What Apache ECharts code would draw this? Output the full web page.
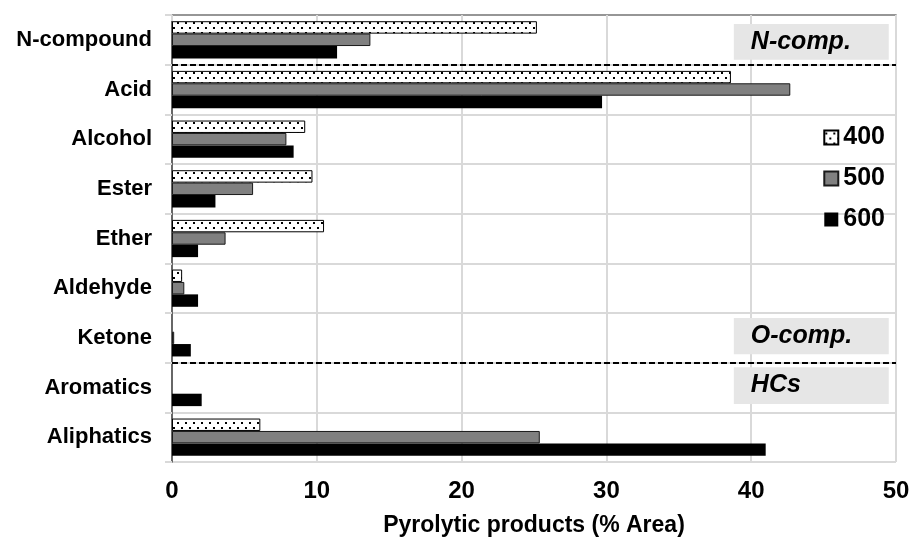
<!DOCTYPE html>
<html>
<head>
<meta charset="utf-8">
<script src="https://cdn.jsdelivr.net/npm/echarts@6/dist/echarts.min.js"></script>
<style>html,body{margin:0;padding:0;background:#fff}#c{width:916px;height:542px}</style>
</head>
<body>
<div id="c"></div>
<script>
// ---- data ----
const categories = ['N-compound','Acid','Alcohol','Ester','Ether','Aldehyde','Ketone','Aromatics','Aliphatics'];
const seriesNames = ['400','500','600'];
const s400 = [25.2, 38.6, 9.2, 9.7, 10.5, 0.7, 0, 0, 6.1];
const s500 = [13.7, 42.7, 7.9, 5.6, 3.7, 0.85, 0.15, 0, 25.4];
const s600 = [11.4, 29.7, 8.4, 3.0, 1.8, 1.8, 1.3, 2.05, 41.0];
const xTicks = [0, 10, 20, 30, 40, 50];
const groupLabels = ['N-comp.', 'O-comp.', 'HCs'];
const groupDividers = [1, 7]; // category boundaries (after N-compound, after Ketone)

// ---- dotted pattern ----
const pc = document.createElement('canvas');
pc.width = 8; pc.height = 10;
const g = pc.getContext('2d');
g.fillStyle = '#ffffff'; g.fillRect(0, 0, 8, 10);
g.fillStyle = '#000000';
g.fillRect(1, 2, 2, 2);
g.fillRect(5, 7, 2, 2);
const dotted = { image: pc, repeat: 'repeat' };

const mainFont = "'Liberation Sans', Arial, sans-serif";

// zero-length bars get no outline
const toItems = arr => arr.map(v => v === 0 ? { value: 0, itemStyle: { borderWidth: 0 } } : v);

const chart = echarts.init(document.getElementById('c'), null, { renderer: 'canvas' });

const groupBoxes = [
  { name: groupLabels[0], y0: 0.18, y1: 0.9 },
  { name: groupLabels[1], y0: 6.1, y1: 6.83 },
  { name: groupLabels[2], y0: 7.09, y1: 7.83 }
];

const option = {
  animation: false,
  backgroundColor: '#ffffff',
  textStyle: { fontFamily: mainFont },
  grid: { left: 172, right: 20, top: 15, bottom: 79, containLabel: false },
  legend: {
    data: seriesNames,
    orient: 'vertical',
    right: 26,
    top: 120,
    icon: 'rect',
    itemWidth: 14,
    itemHeight: 14,
    itemGap: 16,
    textStyle: { fontFamily: mainFont, fontWeight: 'bold', fontSize: 25, color: '#000', lineHeight: 25 }
  },
  xAxis: [{
    type: 'value',
    min: xTicks[0],
    max: xTicks[xTicks.length - 1],
    interval: xTicks[1] - xTicks[0],
    position: 'bottom',
    name: 'Pyrolytic products (% Area)',
    nameLocation: 'middle',
    nameGap: 52,
    nameTextStyle: { fontFamily: mainFont, fontWeight: 'bold', fontSize: 23, color: '#000' },
    axisLine: { show: true, lineStyle: { color: '#d9d9d9', width: 2 } },
    axisTick: { show: true, length: 6, lineStyle: { color: '#d9d9d9', width: 2 } },
    axisLabel: { fontFamily: mainFont, fontWeight: 'bold', fontSize: 24, color: '#000', margin: 17 },
    splitLine: { show: true, lineStyle: { color: '#d9d9d9', width: 2 } }
  }, {
    type: 'value',
    min: xTicks[0],
    max: xTicks[xTicks.length - 1],
    position: 'top',
    axisLine: { show: true, lineStyle: { color: '#808080', width: 1.5 } },
    axisTick: { show: false },
    axisLabel: { show: false },
    splitLine: { show: false }
  }],
  yAxis: [{
    type: 'category',
    data: categories,
    inverse: true,
    axisLine: { show: true, lineStyle: { color: '#d9d9d9', width: 2 } },
    axisTick: { show: true, length: 7, lineStyle: { color: '#d9d9d9', width: 2 } },
    axisLabel: { fontFamily: mainFont, fontWeight: 'bold', fontSize: 22, color: '#000', margin: 20 },
    splitLine: { show: true, lineStyle: { color: '#d9d9d9', width: 2 } }
  }, {
    type: 'value',
    min: 0,
    max: categories.length,
    inverse: true,
    position: 'right',
    axisLine: { show: true, lineStyle: { color: '#404040', width: 1.5 } },
    axisTick: { show: false },
    axisLabel: { show: false },
    splitLine: { show: false }
  }],
  series: [
    {
      name: seriesNames[0], type: 'bar', data: toItems(s400),
      barGap: '0%', barCategoryGap: '25%',
      itemStyle: { color: dotted, borderColor: '#000', borderWidth: 1 }
    },
    {
      name: seriesNames[1], type: 'bar', data: toItems(s500),
      barGap: '0%', barCategoryGap: '25%',
      itemStyle: { color: '#808080', borderColor: '#1a1a1a', borderWidth: 1 }
    },
    {
      name: seriesNames[2], type: 'bar', data: s600,
      barGap: '0%', barCategoryGap: '25%',
      itemStyle: { color: '#000000', borderColor: '#000', borderWidth: 0 }
    },
    {
      name: 'overlay', type: 'line', xAxisIndex: 0, yAxisIndex: 1, data: [],
      silent: true, z: 3,
      markArea: {
        silent: true,
        itemStyle: { color: '#e6e6e6', opacity: 1 },
        label: {
          show: true, position: 'insideLeft', distance: 17,
          fontFamily: mainFont, fontStyle: 'italic', fontWeight: 'bold', fontSize: 25, color: '#000'
        },
        data: groupBoxes.map(b => [
          { name: b.name, xAxis: 38.8, yAxis: b.y0 },
          { xAxis: 49.5, yAxis: b.y1 }
        ])
      },
      markLine: {
        silent: true,
        symbol: 'none',
        label: { show: false },
        lineStyle: { color: '#000', width: 2, type: [6, 3] },
        data: groupDividers.map(v => ({ yAxis: v }))
      }
    }
  ]
};
chart.setOption(option);
</script>
</body>
</html>
